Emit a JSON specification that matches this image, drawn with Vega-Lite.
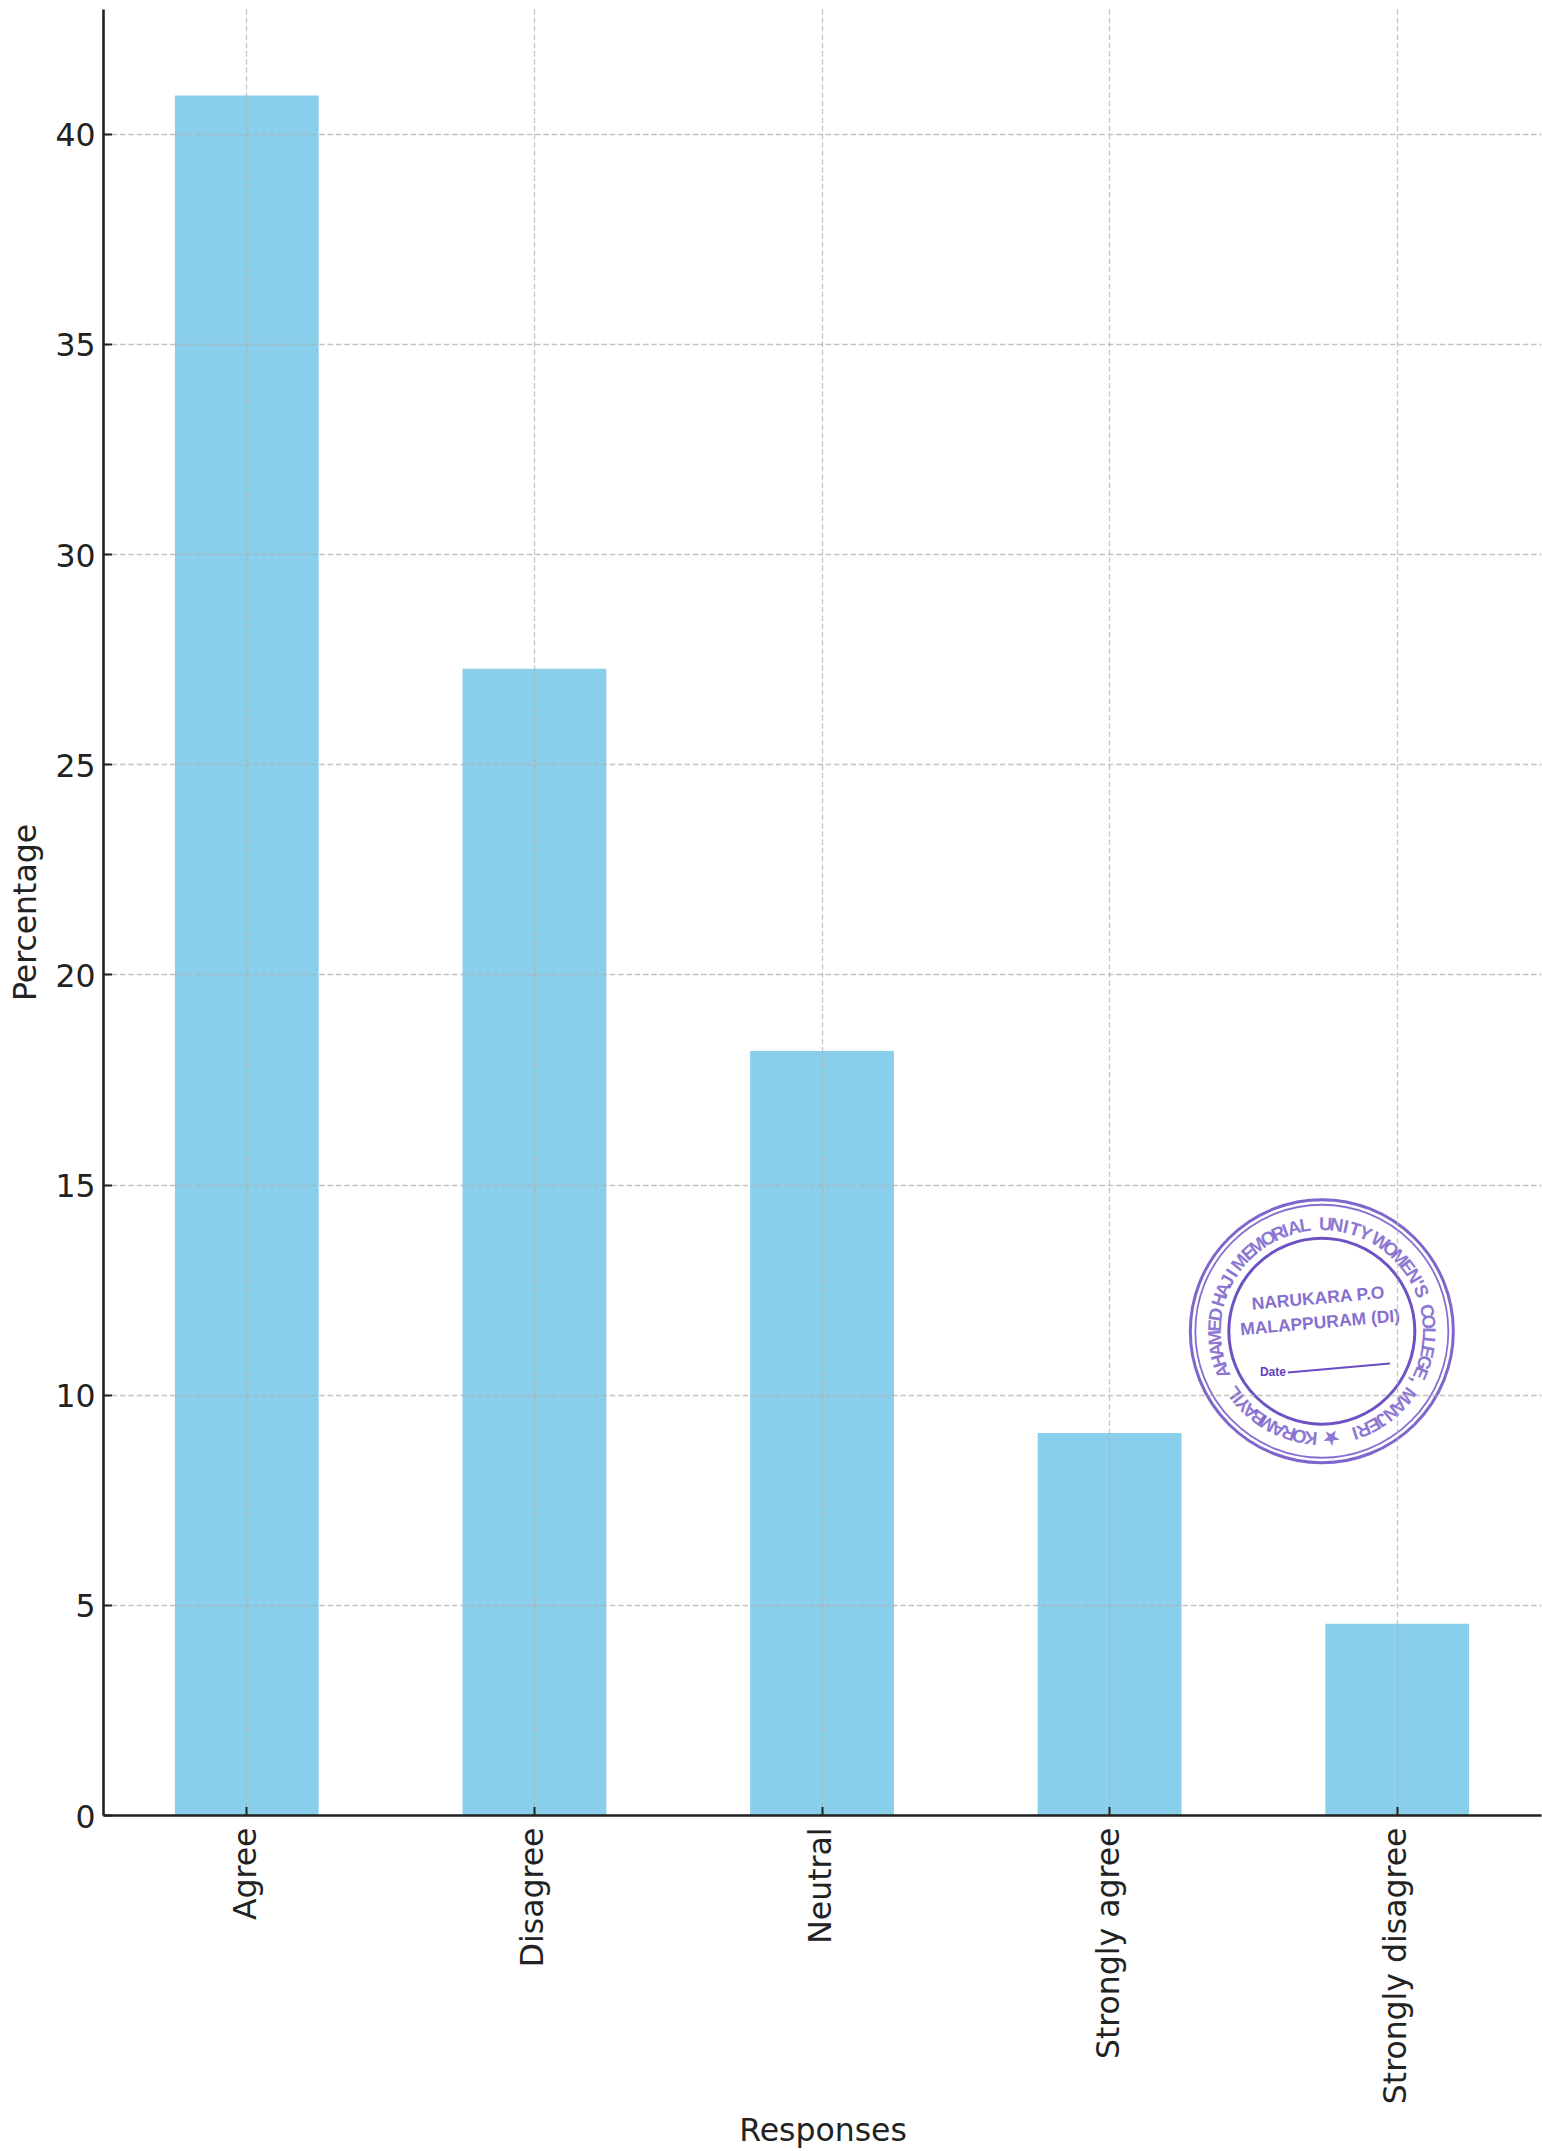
{
"$schema":"https://vega.github.io/schema/vega-lite/v6.json",
"width":1439,"height":1806,
"autosize":{"type":"none"},
"padding":{"left":103,"top":9,"right":0,"bottom":336},
"background":"white",
"config":{"view":{"stroke":null},"text":{"font":"Liberation Sans"}},
"datasets":{
"responses":[{"response":"Agree","pct":40.91},{"response":"Disagree","pct":27.27},{"response":"Neutral","pct":18.18},{"response":"Strongly agree","pct":9.09},{"response":"Strongly disagree","pct":4.55}],
"ring":[
{"c":"K","deg":186},{"c":"O","deg":192},{"c":"R","deg":198},{"c":"A","deg":204},{"c":"M","deg":210.5},{"c":"B","deg":216.5},{"c":"A","deg":222},{"c":"Y","deg":227},{"c":"I","deg":231},{"c":"L","deg":235},
{"c":"A","deg":248},{"c":"H","deg":254},{"c":"A","deg":260},{"c":"M","deg":266.5},{"c":"E","deg":273},{"c":"D","deg":279},
{"c":"H","deg":287},{"c":"A","deg":293},{"c":"J","deg":298},{"c":"I","deg":303},
{"c":"M","deg":310},{"c":"E","deg":317},{"c":"M","deg":323},{"c":"O","deg":330},{"c":"R","deg":336},{"c":"I","deg":340},{"c":"A","deg":345},{"c":"L","deg":351},
{"c":"U","deg":2},{"c":"N","deg":8},{"c":"I","deg":13},{"c":"T","deg":18},{"c":"Y","deg":24},
{"c":"W","deg":33},{"c":"O","deg":40},{"c":"M","deg":46.5},{"c":"E","deg":53},{"c":"N","deg":59},{"c":"'","deg":63.5},{"c":"S","deg":68},
{"c":"C","deg":79},{"c":"O","deg":85},{"c":"L","deg":91},{"c":"L","deg":96},{"c":"E","deg":101},{"c":"G","deg":107},{"c":"E","deg":113},{"c":",","deg":118},
{"c":"M","deg":127},{"c":"A","deg":134},{"c":"N","deg":140},{"c":"J","deg":146},{"c":"E","deg":151},{"c":"R","deg":157},{"c":"I","deg":162},
{"c":"★","deg":175}],
"inner":[{"t":"NARUKARA P.O","xp":3.722,"yp":12.28},{"t":"MALAPPURAM (DI)","xp":3.729,"yp":11.7}],
"date":[{"t":"Date","xp":3.565,"yp":10.55}],
"dateline":[{"xa":3.617,"xb":3.972,"ya":10.53,"yb":10.74}],
"center":[{"xp":3.735,"yp":11.51}]
},
"resolve":{"scale":{"x":"independent"}},
"layer":[
{"data":{"name":"responses"},
 "mark":{"type":"bar","color":"#89CEEB"},
 "encoding":{
  "x":{"field":"response","type":"nominal","sort":null,
   "scale":{"paddingInner":0.5,"paddingOuter":0.25,"range":[0,1438]},
   "axis":{"title":"Responses","titleFont":"DejaVu Sans","titleFontSize":31.5,"titleFontWeight":"normal","titleColor":"#222222","titleY":325,"titleX":719.5,"titleBaseline":"alphabetic",
    "labelFont":"DejaVu Sans","labelFontSize":31.5,"labelColor":"#222222","labelAngle":270,"labelAlign":"right","labelBaseline":"middle","labelPadding":20.5,"labelLimit":0,
    "domainColor":"#222222","domainWidth":2.6,"tickColor":"#222222","tickWidth":2,"tickSize":-8.5,
    "grid":true,"gridColor":"#b0b0b0","gridOpacity":0.75,"gridWidth":1.3,"gridDash":[5.5,2.8],"zindex":1}},
  "y":{"field":"pct","type":"quantitative",
   "scale":{"domain":[0,42.97],"nice":false,"zero":true},
   "axis":{"title":"Percentage","titleFont":"DejaVu Sans","titleFontSize":31.5,"titleFontWeight":"normal","titleColor":"#222222","titleX":-77,"titleY":903,"titleAlign":"center","titleBaseline":"middle","titleAngle":270,
    "values":[0,5,10,15,20,25,30,35,40],
    "labelFont":"DejaVu Sans","labelFontSize":31.5,"labelColor":"#222222","labelPadding":16.5,"labelOffset":3,
    "domainColor":"#222222","domainWidth":2.6,"tickColor":"#222222","tickWidth":2,"tickSize":-8.5,
    "grid":true,"gridColor":"#b0b0b0","gridOpacity":0.75,"gridWidth":1.3,"gridDash":[5.5,2.8],"zindex":1}}
 }},
{"layer":[
 {"data":{"name":"center"},"mark":{"type":"point","shape":"circle","filled":false,"size":69169,"color":"#6a4cc4","strokeWidth":3,"opacity":0.85},
  "encoding":{"x":{"field":"xp","type":"quantitative","scale":{"domain":[-0.5,4.5],"nice":false,"zero":false},"axis":null},"y":{"field":"yp","type":"quantitative"}}},
 {"data":{"name":"center"},"mark":{"type":"point","shape":"circle","filled":false,"size":64009,"color":"#6a4cc4","strokeWidth":1.8,"opacity":0.8},
  "encoding":{"x":{"field":"xp","type":"quantitative","scale":{"domain":[-0.5,4.5],"nice":false,"zero":false},"axis":null},"y":{"field":"yp","type":"quantitative"}}},
 {"data":{"name":"center"},"mark":{"type":"point","shape":"circle","filled":false,"size":34596,"color":"#5f40bd","strokeWidth":3,"opacity":0.9},
  "encoding":{"x":{"field":"xp","type":"quantitative","scale":{"domain":[-0.5,4.5],"nice":false,"zero":false},"axis":null},"y":{"field":"yp","type":"quantitative"}}},
 {"data":{"name":"ring"},"mark":{"type":"text","font":"Liberation Sans","fontSize":18.5,"fontWeight":"bold","color":"#6a4cc4","align":"center","baseline":"middle","radius":107,"opacity":0.75},
  "encoding":{
   "x":{"datum":3.735,"type":"quantitative","scale":{"domain":[-0.5,4.5],"nice":false,"zero":false},"axis":null},
   "y":{"datum":11.51,"type":"quantitative"},
   "theta":{"field":"deg","type":"quantitative","scale":{"domain":[0,360]}},
   "angle":{"field":"deg","type":"quantitative","scale":{"domain":[0,360],"range":[0,360]}},
   "text":{"field":"c","type":"nominal"}}},
 {"data":{"name":"inner"},"mark":{"type":"text","font":"Liberation Sans","fontSize":17.5,"fontWeight":"bold","color":"#6a4cc4","align":"center","baseline":"middle","angle":355,"opacity":0.8},
  "encoding":{"x":{"field":"xp","type":"quantitative","scale":{"domain":[-0.5,4.5],"nice":false,"zero":false},"axis":null},"y":{"field":"yp","type":"quantitative"},"text":{"field":"t","type":"nominal"}}},
 {"data":{"name":"date"},"mark":{"type":"text","font":"Liberation Sans","fontSize":12,"fontWeight":"bold","color":"#5f40bd","align":"center","baseline":"middle"},
  "encoding":{"x":{"field":"xp","type":"quantitative","scale":{"domain":[-0.5,4.5],"nice":false,"zero":false},"axis":null},"y":{"field":"yp","type":"quantitative"},"text":{"field":"t","type":"nominal"}}},
 {"data":{"name":"dateline"},"mark":{"type":"rule","color":"#6a4cc4","strokeWidth":2},
  "encoding":{"x":{"field":"xa","type":"quantitative","scale":{"domain":[-0.5,4.5],"nice":false,"zero":false},"axis":null},"x2":{"field":"xb"},"y":{"field":"ya","type":"quantitative"},"y2":{"field":"yb"}}}
]}
]
}
